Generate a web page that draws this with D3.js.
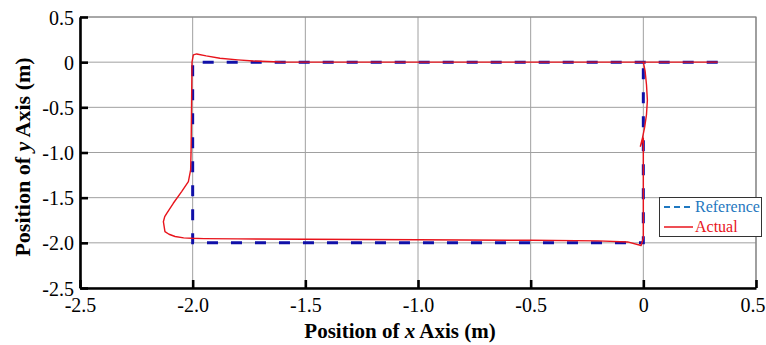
<!DOCTYPE html>
<html><head><meta charset="utf-8">
<script src="https://cdn.jsdelivr.net/npm/d3@7"></script>
<style>
html,body{margin:0;padding:0;background:#fff;}
svg{display:block;}
svg text{font-family:"Liberation Serif","Times New Roman",serif !important;}
</style></head>
<body><svg id="c" width="766" height="345"></svg>
<script>
// ---- data ----
const xTicks = [-2.5, -2.0, -1.5, -1.0, -0.5, 0, 0.5];
const xTickLabels = ["-2.5", "-2.0", "-1.5", "-1.0", "-0.5", "0", "0.5"];
const yTicks = [0.5, 0, -0.5, -1.0, -1.5, -2.0, -2.5];
const yTickLabels = ["0.5", "0", "-0.5", "-1.0", "-1.5", "-2.0", "-2.5"];
const seriesNames = ["Reference", "Actual"];
const refX = [0.33, -2.0, -2.0, 0.0, 0.0];
const refY = [0.0, 0.0, -2.0, -2.0, 0.0];
const actX = [0.33, 0.0, 0.008, 0.014, 0.018, 0.014, 0.006, -0.004, -0.013, 0.0, 0.0, 0.0, 0.0, -0.01,
  -0.07, -0.2, -0.5, -1.0, -1.5, -1.8, -1.95, -2.004, -2.04, -2.078, -2.105, -2.123, -2.13, -2.124, -2.115,
  -2.086, -2.049, -2.019, -2.009, -2.007, -2.005, -2.003, -1.997, -1.982, -1.94, -1.879, -1.8, -1.731, -1.61, -1.4, -1.0, 0.0, 0.33];
const actY = [0.0, 0.0, -0.1, -0.25, -0.42, -0.58, -0.72, -0.84, -0.93, -0.84, -1.2, -1.6, -1.95, -2.03,
  -1.99, -1.978, -1.972, -1.966, -1.96, -1.956, -1.953, -1.95, -1.945, -1.93, -1.905, -1.876, -1.766, -1.71, -1.673,
  -1.562, -1.433, -1.323, -1.193, -0.97, -0.5, 0.0, 0.08, 0.091, 0.07, 0.043, 0.025, 0.013, 0.002, 0.0, 0.0, 0.0, 0.0];

// ---- layout ----
const svg = d3.select("#c");
const L = 80, T = 17, R = 756, B = 288;
const x = d3.scaleLinear().domain([-2.5, 0.5]).range([L, R]);
const y = d3.scaleLinear().domain([-2.5, 0.5]).range([B, T]);

// grid
const g = svg.append("g");
g.selectAll("line.vx").data(xTicks).enter().append("line")
  .attr("x1", d => x(d)).attr("x2", d => x(d)).attr("y1", T).attr("y2", B)
  .attr("stroke", "#a0a0a0").attr("stroke-width", 1);
g.selectAll("line.hy").data(yTicks).enter().append("line")
  .attr("y1", d => y(d)).attr("y2", d => y(d)).attr("x1", L).attr("x2", R)
  .attr("stroke", "#a0a0a0").attr("stroke-width", 1);
// top/right border
svg.append("path").attr("d", `M${L},${T}H${R}V${B}`).attr("fill", "none")
  .attr("stroke", "#808080").attr("stroke-width", 1.2);

// series
const line = d3.line().x(d => x(d[0])).y(d => y(d[1]));
const refPts = refX.map((v, i) => [v, refY[i]]);
const actPts = actX.map((v, i) => [v, actY[i]]);
svg.append("path").attr("d", line(refPts)).attr("fill", "none")
  .attr("stroke", "#1010a8").attr("stroke-width", 3).attr("stroke-dasharray", "11,13");
svg.append("path").attr("d", line(actPts))
  .attr("fill", "none").attr("stroke", "#e8141c").attr("stroke-width", 1.4).attr("stroke-linejoin", "round");

// axes
const xAxis = d3.axisBottom(x).tickValues(xTicks).tickFormat((d, i) => xTickLabels[i]).tickSizeInner(-8).tickSizeOuter(0).tickPadding(10);
const yAxis = d3.axisLeft(y).tickValues(yTicks).tickFormat((d, i) => yTickLabels[i]).tickSizeInner(-8).tickSizeOuter(0).tickPadding(6);
const gx = svg.append("g").attr("transform", `translate(0,${B})`).call(xAxis);
const gy = svg.append("g").attr("transform", `translate(${L},0)`).call(yAxis);
[gx, gy].forEach(a => {
  a.attr("font-family", null);
  a.select(".domain").attr("stroke", "#000").attr("stroke-width", 2.6);
  a.selectAll(".tick line").attr("stroke", "#000").attr("stroke-width", 2.6);
  a.selectAll(".tick text").attr("font-size", 20).attr("fill", "#000");
});
gy.selectAll(".tick text").attr("dy", "0.35em");
// keep the last x label inside the picture
gx.selectAll(".tick text").filter((d, i) => i === xTicks.length - 1).attr("text-anchor", "end").attr("x", 765 - R);

// titles
const xt = svg.append("text").attr("x", 400).attr("y", 338).attr("text-anchor", "middle")
  .attr("font-size", 21).attr("font-weight", "bold").attr("fill", "#000");
xt.append("tspan").text("Position of ");
xt.append("tspan").attr("font-style", "italic").text("x");
xt.append("tspan").text(" Axis (m)");
const yt = svg.append("text").attr("transform", `translate(30,157) rotate(-90)`).attr("text-anchor", "middle")
  .attr("font-size", 22).attr("font-weight", "bold").attr("fill", "#000");
yt.append("tspan").text("Position of ");
yt.append("tspan").attr("font-style", "italic").text("y");
yt.append("tspan").text(" Axis (m)");

// legend
const lg = svg.append("g");
lg.append("rect").attr("x", 659.5).attr("y", 197.5).attr("width", 102).attr("height", 39)
  .attr("fill", "#fff").attr("stroke", "#333").attr("stroke-width", 1);
lg.append("line").attr("x1", 664).attr("x2", 693).attr("y1", 207).attr("y2", 207)
  .attr("stroke", "#1f78c0").attr("stroke-width", 2).attr("stroke-dasharray", "6,4");
lg.append("text").attr("x", 695).attr("y", 212).attr("font-size", 16).attr("fill", "#1f78c0").text(seriesNames[0]);
lg.append("line").attr("x1", 664).attr("x2", 693).attr("y1", 227).attr("y2", 227)
  .attr("stroke", "#e8141c").attr("stroke-width", 1.5);
lg.append("text").attr("x", 695).attr("y", 232).attr("font-size", 16).attr("fill", "#e8141c").text(seriesNames[1]);
</script></body></html>
